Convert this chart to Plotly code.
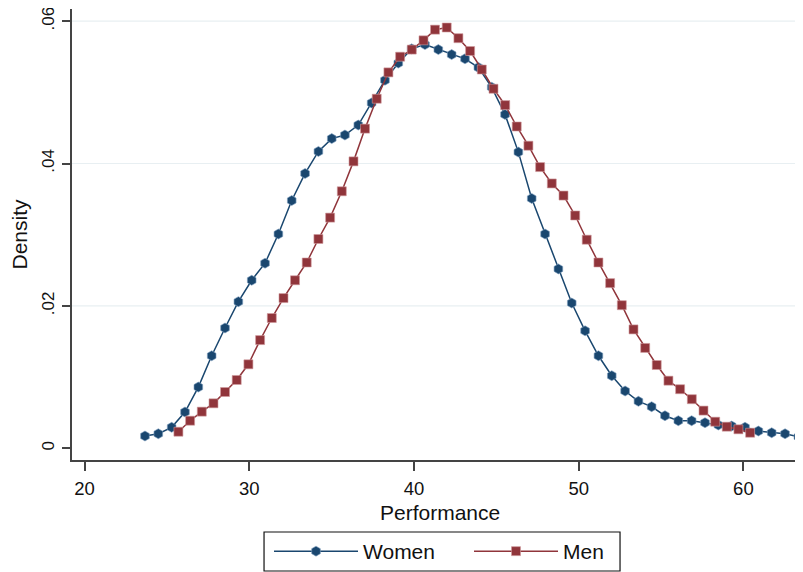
import plotly.graph_objects as go

# Kernel density estimates
women_x = [23.67, 24.48, 25.29, 26.10, 26.91, 27.72, 28.53, 29.34, 30.15, 30.96,
           31.77, 32.58, 33.39, 34.20, 35.01, 35.81, 36.62, 37.43, 38.24, 39.05,
           39.86, 40.67, 41.48, 42.29, 43.10, 43.91, 44.72, 45.53, 46.34, 47.15,
           47.96, 48.77, 49.58, 50.39, 51.20, 52.01, 52.82, 53.63, 54.43, 55.24,
           56.05, 56.86, 57.67, 58.48, 59.29, 60.10, 60.91, 61.72, 62.53, 63.34]
women_y = [0.00173, 0.00205, 0.00295, 0.0051, 0.0086, 0.0130, 0.0169, 0.0206, 0.0236, 0.0260,
           0.0301, 0.0348, 0.0386, 0.0417, 0.0435, 0.0440, 0.0454, 0.0485, 0.0517, 0.0541,
           0.0561, 0.0567, 0.0560, 0.0553, 0.0547, 0.0535, 0.0507, 0.0469, 0.0416, 0.0351,
           0.0301, 0.0252, 0.0204, 0.0165, 0.0130, 0.0102, 0.00805, 0.0066, 0.00585, 0.00458,
           0.00388, 0.00388, 0.0036, 0.00327, 0.00313, 0.00295, 0.00243, 0.00219, 0.00205, 0.00163]

men_x = [25.70, 26.41, 27.12, 27.83, 28.53, 29.24, 29.95, 30.66, 31.37, 32.08,
         32.78, 33.49, 34.20, 34.91, 35.62, 36.33, 37.03, 37.74, 38.45, 39.16,
         39.87, 40.58, 41.28, 41.99, 42.70, 43.41, 44.12, 44.83, 45.54, 46.24,
         46.95, 47.66, 48.37, 49.08, 49.79, 50.49, 51.20, 51.91, 52.62, 53.33,
         54.04, 54.74, 55.45, 56.16, 56.87, 57.58, 58.29, 58.99, 59.70, 60.41]
men_y = [0.00233, 0.00388, 0.00515, 0.00632, 0.00791, 0.0096, 0.0118, 0.0152, 0.0183, 0.0211,
         0.0236, 0.0261, 0.0294, 0.0324, 0.0361, 0.0403, 0.0449, 0.0491, 0.0528, 0.0550,
         0.0560, 0.0573, 0.0588, 0.0591, 0.0576, 0.0558, 0.0532, 0.0505, 0.0482, 0.0452,
         0.0425, 0.0395, 0.0372, 0.0355, 0.0327, 0.0293, 0.0261, 0.0232, 0.0201, 0.0167,
         0.0141, 0.0117, 0.0095, 0.0083, 0.0069, 0.0053, 0.00374, 0.00304, 0.00267, 0.00219]

x_ticks = [20, 30, 40, 50, 60]
x_tick_labels = ["20", "30", "40", "50", "60"]
y_ticks = [0, 0.02, 0.04, 0.06]
y_tick_labels = ["0", ".02", ".04", ".06"]
y_grid = [0.02, 0.04, 0.06]
x_title = "Performance"
y_title = "Density"

FONT = "Liberation Sans, Arial, sans-serif"
NAVY = "#1a476f"
MAROON = "#90353b"

fig = go.Figure()
fig.add_trace(go.Scatter(
    x=women_x, y=women_y, name="Women", mode="lines+markers", legend="legend",
    line=dict(color=NAVY, width=1.5),
    marker=dict(symbol="hexagon", size=10, color=NAVY,
                line=dict(color="#7f9fbf", width=0.6)),
))
fig.add_trace(go.Scatter(
    x=men_x, y=men_y, name="Men", mode="lines+markers", legend="legend2",
    line=dict(color=MAROON, width=1.5),
    marker=dict(symbol="square", size=9, color=MAROON,
                line=dict(color="#d09a9e", width=0.6)),
))

for g in y_grid:
    fig.add_shape(type="line", xref="paper", x0=0, x1=1, yref="y", y0=g, y1=g,
                  line=dict(color="#e8eff2", width=1.2), layer="below")

# frame around the two legend entries
fig.add_shape(type="rect", xref="paper", yref="paper",
              x0=0.2627, x1=0.7497, y0=-0.2461, y1=-0.1596,
              line=dict(color="#111111", width=1.2), fillcolor="rgba(0,0,0,0)")

# x-axis title placed as a paper annotation for exact vertical position
fig.add_annotation(text=x_title, xref="paper", yref="paper", x=0.5034, y=-0.1153,
                   xanchor="center", yanchor="middle", showarrow=False,
                   font=dict(family=FONT, size=21, color="#111111"))

legend_common = dict(
    orientation="h", xanchor="left", y=-0.2029, yanchor="middle",
    borderwidth=0, bgcolor="rgba(0,0,0,0)",
    font=dict(family=FONT, size=21, color="#111111"),
    itemwidth=84,
)

# the page body adds an 8px offset, so the figure is sized to the remaining viewport
fig.update_layout(
    width=795, height=564,
    margin=dict(l=64, r=0, t=1, b=112),
    paper_bgcolor="white", plot_bgcolor="white",
    font=dict(family=FONT, size=18, color="#111111"),
    showlegend=True,
    legend=dict(x=0.2695, **legend_common),
    legend2=dict(x=0.5431, **legend_common),
    xaxis=dict(
        range=[19.24, 63.62], tickmode="array", tickvals=x_ticks, ticktext=x_tick_labels,
        showgrid=False, zeroline=False, automargin=False,
        showline=True, linecolor="#444444", linewidth=2,
        ticks="outside", ticklen=9, tickwidth=1.5, tickcolor="#444444",
        ticklabelstandoff=2, tickfont=dict(size=18.5), ticklabeloverflow="allow",
    ),
    yaxis=dict(
        range=[-0.00164, 0.0617], tickmode="array", tickvals=y_ticks, ticktext=y_tick_labels,
        tickangle=-90, showgrid=False, zeroline=False, automargin=False,
        showline=True, linecolor="#444444", linewidth=2,
        ticks="outside", ticklen=8, tickwidth=1.5, tickcolor="#444444",
        ticklabelstandoff=1, tickfont=dict(size=17), ticklabeloverflow="allow",
        title=dict(text=y_title, font=dict(family=FONT, size=21), standoff=8),
    ),
)

fig.write_html("out.html")
